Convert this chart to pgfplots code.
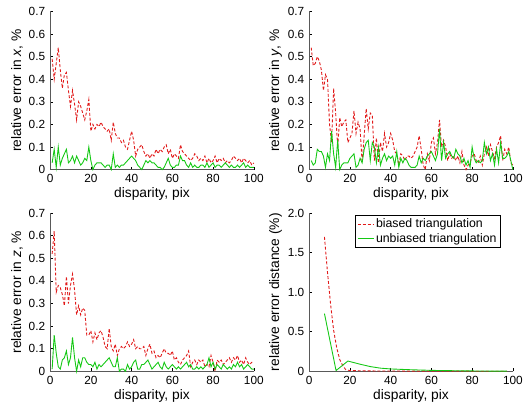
\documentclass[border=0pt]{standalone}
\usepackage{fontspec}
\setmainfont{Liberation Sans}
\usepackage{pgfplots}
\usepackage{pgfplotstable}
\pgfplotsset{compat=1.18}
\usepgfplotslibrary{groupplots}

\definecolor{biasred}{RGB}{225,25,25}
\definecolor{unbgreen}{RGB}{20,200,20}

% x, biased/unbiased error in x, y, z
\pgfplotstableread{
x bx ux by uy bz uz
1 0.49 0.03 0.54 0.04 0.52 0.01
2 0.40 0.09 0.46 0.02 0.62 0.16
3 0.47 0.01 0.47 0.03 0.35 0.08
4 0.54 0.10 0.50 0.09 0.38 0.02
5 0.44 0.02 0.48 0.08 0.37 0.01
6 0.36 0.05 0.44 0.08 0.34 0.05
7 0.42 0.07 0.35 0.06 0.29 0.06
8 0.43 0.09 0.42 0.01 0.42 0.09
9 0.35 0.03 0.40 0.07 0.30 0.03
10 0.28 0.04 0.20 0.04 0.38 0.06
11 0.35 0.06 0.12 0.17 0.43 0.15
12 0.29 0.03 0.36 0.07 0.36 0.06
13 0.22 0.06 0.25 0.01 0.25 0.00
14 0.30 0.04 0.10 0.13 0.29 0.05
15 0.28 0.02 0.23 0.00 0.25 0.02
16 0.25 0.03 0.19 0.02 0.28 0.06
17 0.22 0.05 0.21 0.03 0.27 0.06
18 0.26 0.04 0.22 0.03 0.16 0.04
19 0.31 0.10 0.12 0.03 0.16 0.03
20 0.17 0.04 0.14 0.05 0.18 0.03
21 0.20 0.00 0.16 0.06 0.13 0.02
22 0.18 0.02 0.26 0.07 0.17 0.04
23 0.20 0.03 0.16 0.01 0.14 0.01
24 0.19 0.03 0.21 0.02 0.17 0.03
25 0.21 0.03 0.18 0.05 0.18 0.02
26 0.19 0.02 0.03 0.03 0.15 0.03
27 0.18 0.01 0.15 0.09 0.11 0.04
28 0.17 0.02 0.27 0.12 0.10 0.05
29 0.18 0.02 0.18 0.13 0.19 0.06
30 0.13 0.00 0.25 0.04 0.11 0.04
31 0.21 0.07 0.24 0.12 0.09 0.02
32 0.16 0.01 0.04 0.10 0.12 0.02
33 0.14 0.02 0.14 0.03 0.07 0.06
34 0.14 0.01 0.03 0.10 0.10 0.00
35 0.12 0.02 0.12 0.02 0.11 0.01
36 0.13 0.02 0.08 0.05 0.10 0.01
37 0.10 0.03 0.16 0.07 0.11 0.00
38 0.09 0.04 0.10 0.04 0.13 0.03
39 0.13 0.05 0.12 0.06 0.11 0.01
40 0.17 0.06 0.16 0.05 0.12 0.02
41 0.13 0.05 0.13 0.06 0.14 0.04
42 0.06 0.04 0.08 0.02 0.10 0.05
43 0.09 0.02 0.07 0.08 0.11 0.01
44 0.10 0.01 0.02 0.01 0.10 0.01
45 0.11 0.00 0.07 0.05 0.10 0.03
46 0.08 0.02 0.06 0.03 0.11 0.03
47 0.06 0.04 0.04 0.05 0.07 0.04
48 0.07 0.03 0.06 0.04 0.10 0.05
49 0.05 0.04 0.06 0.02 0.12 0.03
50 0.07 0.03 0.05 0.01 0.08 0.01
51 0.06 0.03 0.06 0.01 0.09 0.02
52 0.09 0.02 0.08 0.01 0.06 0.03
53 0.07 0.01 0.10 0.02 0.07 0.04
54 0.09 0.01 0.15 0.06 0.06 0.02
55 0.08 0.00 0.09 0.03 0.08 0.01
56 0.10 0.01 0.02 0.05 0.10 0.04
57 0.11 0.03 0.00 0.04 0.08 0.02
58 0.07 0.05 0.07 0.06 0.08 0.01
59 0.09 0.02 0.04 0.07 0.07 0.02
60 0.05 0.01 0.12 0.08 0.09 0.03
61 0.07 0.01 0.14 0.06 0.05 0.02
62 0.06 0.02 0.07 0.04 0.06 0.01
63 0.05 0.02 0.12 0.07 0.04 0.02
64 0.11 0.06 0.22 0.18 0.03 0.01
65 0.08 0.04 0.10 0.04 0.05 0.02
66 0.07 0.04 0.13 0.12 0.06 0.03
67 0.06 0.02 0.10 0.05 0.07 0.04
68 0.05 0.01 0.04 0.07 0.09 0.02
69 0.04 0.03 0.07 0.08 0.02 0.03
70 0.05 0.01 0.05 0.06 0.04 0.01
71 0.07 0.02 0.06 0.05 0.05 0.01
72 0.06 0.01 0.04 0.09 0.03 0.02
73 0.04 0.01 0.06 0.07 0.05 0.01
74 0.05 0.02 0.03 0.06 0.04 0.02
75 0.04 0.02 0.08 0.03 0.05 0.01
76 0.06 0.01 0.02 0.05 0.02 0.02
77 0.03 0.03 0.00 0.02 0.03 0.03
78 0.05 0.01 0.02 0.04 0.02 0.06
79 0.03 0.02 0.03 0.01 0.07 0.02
80 0.04 0.03 0.06 0.10 0.04 0.04
81 0.06 0.01 0.07 0.05 0.00 0.01
82 0.03 0.02 0.04 0.03 0.05 0.03
83 0.05 0.02 0.03 0.04 0.04 0.02
84 0.04 0.01 0.06 0.03 0.05 0.01
85 0.05 0.02 0.02 0.04 0.03 0.03
86 0.03 0.03 0.07 0.12 0.04 0.02
87 0.04 0.02 0.10 0.07 0.05 0.01
88 0.03 0.01 0.06 0.10 0.06 0.02
89 0.04 0.02 0.11 0.04 0.04 0.01
90 0.06 0.01 0.08 0.07 0.06 0.03
91 0.05 0.01 0.05 0.02 0.05 0.02
92 0.04 0.02 0.10 0.09 0.07 0.04
93 0.05 0.01 0.12 0.03 0.04 0.02
94 0.03 0.02 0.15 0.12 0.05 0.03
95 0.05 0.03 0.04 0.05 0.03 0.01
96 0.04 0.01 0.09 0.05 0.06 0.02
97 0.03 0.02 0.07 0.06 0.04 0.03
98 0.04 0.01 0.10 0.08 0.03 0.02
99 0.02 0.01 0.03 0.04 0.04 0.01
100 0.03 0.01 0.02 0.00 0.04 0.01
}\errtab

% relative error in distance
\pgfplotstableread{
x b
7.5 1.70
9.0 1.25
10.5 0.85
12.0 0.52
13.5 0.30
15.0 0.15
16.5 0.07
18.0 0.02
20.0 0.01
30.0 0.005
50.0 0.003
70.0 0.002
97.0 0.001
}\distb
\pgfplotstableread{
x u
7.5 0.73
13.2 0.01
19.0 0.13
25.0 0.09
30.0 0.06
35.0 0.04
40.0 0.03
50.0 0.02
60.0 0.012
70.0 0.008
80.0 0.005
90.0 0.003
97.0 0.002
}\distu

\begin{document}
\begin{tikzpicture}
\begin{groupplot}[
  group style={group size=2 by 2, horizontal sep=56bp, vertical sep=44bp},
  scale only axis, width=206bp, height=160bp,
  axis lines=left, axis line style={-, black!65, line width=0.9pt},
  tick style={black, line width=0.6pt}, tick align=inside,
  major tick length=3bp,
  xmin=0, xmax=100, xtick={0,20,...,100},
  ticklabel style={font=\fontsize{12}{13}\selectfont},
  xticklabel style={yshift=-1.5bp},
  yticklabel style={xshift=-1.5bp},
  label style={font=\fontsize{14}{16}\selectfont},
  /pgf/number format/assume math mode=true,
  xlabel={disparity, pix},
  xlabel style={yshift=2bp},
  ylabel style={yshift=-1bp},
  clip=false,
]
\nextgroupplot[ymin=0, ymax=0.7, ytick={0,0.1,...,0.7},
  ylabel={relative error in \textit{x}, \%}]
\addplot[biasred, densely dashed, line width=0.9pt] table[x=x, y=bx] {\errtab};
\addplot[unbgreen, line width=0.9pt] table[x=x, y=ux] {\errtab};

\nextgroupplot[ymin=0, ymax=0.7, ytick={0,0.1,...,0.7},
  ylabel={relative error in \textit{y}, \%}]
\addplot[biasred, densely dashed, line width=0.9pt] table[x=x, y=by] {\errtab};
\addplot[unbgreen, line width=0.9pt] table[x=x, y=uy] {\errtab};

\nextgroupplot[ymin=0, ymax=0.7, ytick={0,0.1,...,0.7},
  ylabel={relative error in \textit{z}, \%}]
\addplot[biasred, densely dashed, line width=0.9pt] table[x=x, y=bz] {\errtab};
\addplot[unbgreen, line width=0.9pt] table[x=x, y=uz] {\errtab};

\nextgroupplot[ymin=0, ymax=2, ytick={0,0.5,1,1.5,2},
  yticklabels={0,0.5,1.0,1.5,2.0},
  ylabel={relative error distance (\%)},
  legend style={at={(0.94,0.99)}, anchor=north east, draw=black,
    font=\fontsize{12.5}{14}\selectfont, inner sep=2bp, row sep=0bp,
    cells={anchor=west}},
  legend image code/.code={\draw[#1] (0bp,0bp) -- (16bp,0bp);}]
\addplot[biasred, densely dashed, line width=0.9pt] table[x=x, y=b] {\distb};
\addlegendentry{biased triangulation}
\addplot[unbgreen, line width=0.9pt] table[x=x, y=u] {\distu};
\addlegendentry{unbiased triangulation}
\end{groupplot}
% white margin as in the reference
\path (current bounding box.south west) ++(-8bp,-5bp) (current bounding box.north east) ++(0,4bp);
\end{tikzpicture}
\end{document}
